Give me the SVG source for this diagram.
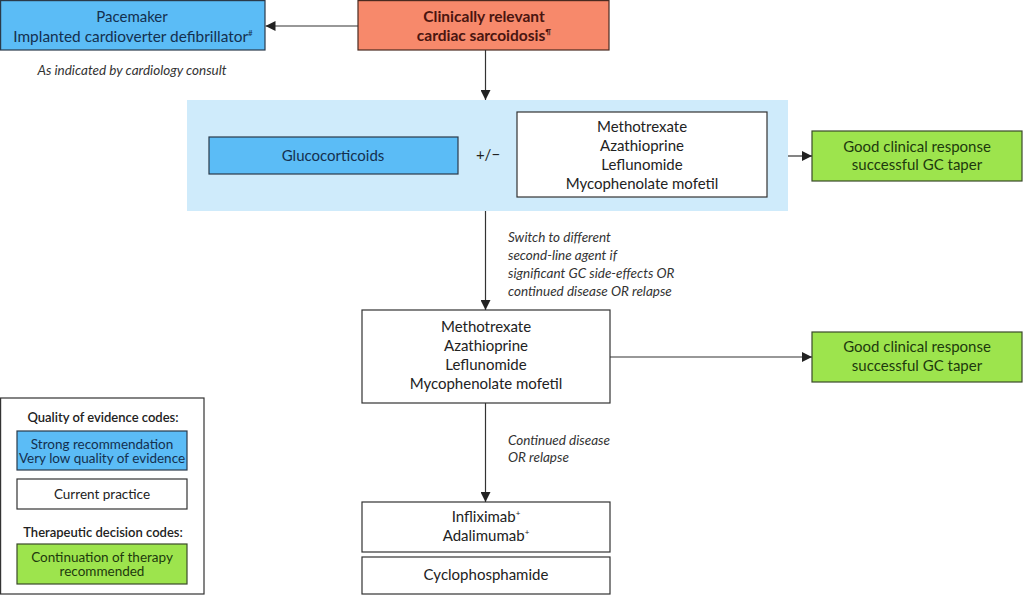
<svg xmlns="http://www.w3.org/2000/svg" width="1024" height="595" viewBox="0 0 1024 595">
<defs>
<marker id="ah" viewBox="0 0 10 10" refX="10" refY="5" markerWidth="10" markerHeight="10" markerUnits="userSpaceOnUse" orient="auto">
<path d="M0,0 L10,5 L0,10 z" fill="#222"/>
</marker>
<style>
text{font-family:Lato,"Noto Sans",sans-serif;font-size:15px;text-anchor:middle;fill:#222}
.blue{fill:#5bbcf6;stroke:#2a3a4a;stroke-width:1.2}
.white{fill:#fff;stroke:#333;stroke-width:1.2}
.green{fill:#9de44d;stroke:#3a4a2a;stroke-width:1.2}
.salmon{fill:#f7896b;stroke:#4a2a20;stroke-width:1.2}
.tb{fill:#14304f}
.tg{fill:#1d3a0e}
.ts{fill:#4a1510;font-weight:bold;font-size:15.5px}
.it{font-style:italic;text-anchor:start;font-size:13.5px;fill:#333}
.sup{font-size:8px}
.lh{font-weight:600;font-size:13px}
.conn line{stroke:#333;stroke-width:1.2;marker-end:url(#ah)}
</style>
</defs>
<rect width="1024" height="595" fill="#fff"/>

<g id="pacemaker">
<rect class="blue" x="0.6" y="0.6" width="264.4" height="49.4"/>
<text class="tb" x="132" y="21.5">Pacemaker</text>
<text class="tb" x="133" y="41.5" style="font-size:15.4px">Implanted cardioverter defibrillator<tspan class="sup" dy="-6">#</tspan></text>
</g>
<g id="pacemaker-note">
<text class="it" x="132" y="75" style="text-anchor:middle">As indicated by cardiology consult</text>
</g>

<g id="sarcoidosis">
<rect class="salmon" x="358" y="0.6" width="251" height="49.4"/>
<text class="ts" x="484" y="21.5">Clinically relevant</text>
<text class="ts" x="484" y="41">cardiac sarcoidosis<tspan class="sup" dy="-6">¶</tspan></text>
</g>

<g id="first-line">
<rect x="187" y="100" width="601" height="111" fill="#cfebfb"/>
<g id="glucocorticoids">
<rect class="blue" x="209" y="137" width="249" height="37"/>
<text class="tb" x="333" y="160.5">Glucocorticoids</text>
</g>
<text x="488" y="159.5" fill="#333">+/−</text>
<g id="second-line-1">
<rect class="white" x="517" y="112" width="250" height="85"/>
<text x="642" y="132">Methotrexate</text>
<text x="642" y="151">Azathioprine</text>
<text x="642" y="170">Leflunomide</text>
<text x="642" y="189">Mycophenolate mofetil</text>
</g>
</g>

<g id="response-1">
<rect class="green" x="812" y="131" width="210" height="50"/>
<text class="tg" x="917" y="151.5">Good clinical response</text>
<text class="tg" x="917" y="170">successful GC taper</text>
</g>

<g id="switch-label">
<text class="it" x="508" y="242">Switch to different</text>
<text class="it" x="508" y="260">second-line agent if</text>
<text class="it" x="508" y="278">significant GC side-effects OR</text>
<text class="it" x="508" y="295.5">continued disease OR relapse</text>
</g>

<g id="second-line-2">
<rect class="white" x="362" y="310" width="248" height="93"/>
<text x="486" y="332">Methotrexate</text>
<text x="486" y="351">Azathioprine</text>
<text x="486" y="370">Leflunomide</text>
<text x="486" y="389">Mycophenolate mofetil</text>
</g>

<g id="response-2">
<rect class="green" x="812" y="332" width="210" height="50"/>
<text class="tg" x="917" y="352">Good clinical response</text>
<text class="tg" x="917" y="371">successful GC taper</text>
</g>

<g id="relapse-label">
<text class="it" x="508" y="445">Continued disease</text>
<text class="it" x="508" y="462">OR relapse</text>
</g>

<g id="biologics">
<rect class="white" x="362" y="502" width="248" height="50"/>
<text x="486" y="522">Infliximab<tspan class="sup" dy="-6">+</tspan></text>
<text x="486" y="541">Adalimumab<tspan class="sup" dy="-6">+</tspan></text>
</g>

<g id="cyclophosphamide">
<rect class="white" x="362" y="557" width="248" height="37"/>
<text x="486" y="580">Cyclophosphamide</text>
</g>

<g id="legend">
<rect x="0.6" y="398" width="203.4" height="196" fill="#fff" stroke="#333" stroke-width="1.2"/>
<text class="lh" x="103" y="422">Quality of evidence codes:</text>
<rect class="blue" x="17" y="431" width="170" height="39"/>
<text class="tb" x="102" y="448.5" style="font-size:13.5px">Strong recommendation</text>
<text class="tb" x="102" y="463" style="font-size:13.5px">Very low quality of evidence</text>
<rect class="white" x="17" y="479" width="170" height="30"/>
<text x="102" y="498.5" style="font-size:13.5px">Current practice</text>
<text class="lh" x="103" y="536.5">Therapeutic decision codes:</text>
<rect class="green" x="17" y="544" width="170" height="40"/>
<text class="tg" x="102" y="561.5" style="font-size:13.5px">Continuation of therapy</text>
<text class="tg" x="102" y="576" style="font-size:13.5px">recommended</text>
</g>

<g class="conn" id="connectors">
<line x1="358" y1="26" x2="265.5" y2="26"/>
<line x1="485.5" y1="50" x2="485.5" y2="100"/>
<line x1="485.5" y1="211" x2="485.5" y2="310"/>
<line x1="485.5" y1="403" x2="485.5" y2="502"/>
<line x1="788" y1="156" x2="812" y2="156"/>
<line x1="610" y1="357" x2="812" y2="357"/>
</g>
</svg>
